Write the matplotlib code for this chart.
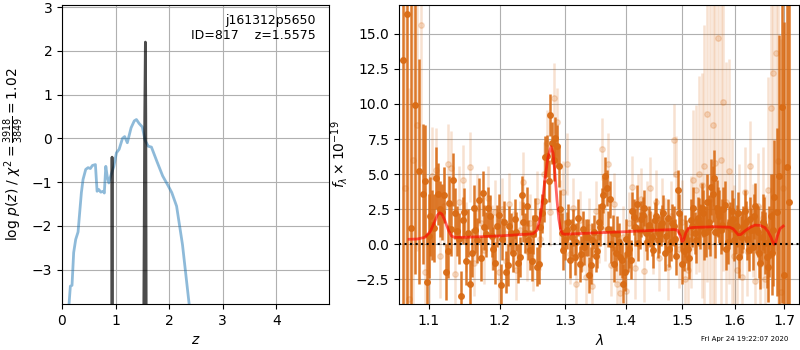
import matplotlib
matplotlib.use('Agg')
import matplotlib.pyplot as plt
import numpy as np

# coarse p(z)
z_coarse = [0.125, 0.156, 0.187, 0.218, 0.256, 0.30, 0.33, 0.362, 0.393, 0.443, 0.487, 0.53,
            0.568, 0.624, 0.655, 0.687, 0.724, 0.768, 0.79, 0.818, 0.843, 0.874, 0.91, 0.968,
            1.017, 1.067, 1.13, 1.17, 1.22, 1.29, 1.35, 1.39, 1.44, 1.50, 1.55, 1.61, 1.67,
            1.77, 1.88, 1.985, 2.05, 2.14, 2.25, 2.38]
logp_coarse = [-3.9, -3.38, -3.36, -2.61, -2.31, -2.14, -1.70, -1.24, -0.94, -0.71, -0.67, -0.69,
               -0.62, -0.60, -1.21, -1.17, -1.23, -1.21, -1.25, -0.64, -0.86, -1.02, -0.86, -0.64,
               -0.33, -0.25, 0.0, 0.04, -0.10, 0.24, 0.40, 0.43, 0.34, 0.26, -0.04, -0.18, -0.2,
               -0.52, -0.86, -1.09, -1.24, -1.55, -2.43, -3.85]

# fine p(z)
z_fine = [0.925, 0.931, 0.935, 0.939, 0.945, 1.51, 1.528, 1.545, 1.5575, 1.565, 1.572, 1.59]
logp_fine = [-8, -3.8, -0.43, -3.8, -8, -8, -3.8, 0.5, 2.2, 0.5, -3.8, -8]

# spectrum, first beam
wave_a = np.arange(1.066, 1.7112, 0.0052)
flux_a = [13.1, 16.4, 1.15, 9.9, 5.2, 3.6, -2.7, 2.0, 1.15, 3.6,
          2.3, -1.95, 2.95, 4.6, 0.95, -3.7, 2.3, 0.8, -0.6, 1.0,
          3.15, 3.65, 0.7, 2.0, -0.3, 1.3, -2.9, 1.6, -1.5, 0.8,
          1.8, -1.35, 3.5, 0.8, 0.3, -1.2, 1.9, -1.4, 2.2, 6.2,
          4.5, 7.2, 7.6, 5.6, 0.8, 0.3, 1.6, 0.5, -0.9, 1.9,
          -0.7, -0.2, 0.5, -1.5, 0.9, -0.5, 1.2, 3.5, 4.0, 3.2,
          0.8, -0.6, 0.2, -1.1, -1.95, -0.6, -1.1, 1.96, 2.9, 1.0,
          2.1, 0.8, 1.4, 0.5, 1.7, 0.3, 1.2, 2.2, 0.6, -0.3,
          1.5, 0.4, 3.9, 0.9, -0.5, 0.2, -1.0, 1.3, 0.8, 1.9,
          1.3, 2.2, 0.9, 1.6, 4.1, 4.7, 2.6, 2.0, 1.4, 2.8,
          0.2, 1.5, 1.8, 0.8, 2.2, 0.5, 1.2, 1.6, -0.4, 1.0,
          2.0, 1.1, -0.6, 0.5, 1.4, -0.9, 0.2, -0.6, 3.4, 2.3,
          4.9, 9.8, -2.2, 5.5, 3.0]
err_a = [25, 25, 20, 12, 8, 5, 3.5, 2.8, 2.4, 2.2,
         2.0, 2.0, 1.9, 1.9, 1.8, 1.8, 1.7, 1.7, 1.7, 1.6,
         1.6, 1.6, 1.6, 1.5, 1.5, 1.5, 1.5, 1.5, 1.5, 1.4,
         1.4, 1.4, 1.4, 1.4, 1.4, 1.4, 1.4, 1.4, 1.4, 1.5,
         1.5, 1.5, 1.5, 1.5, 1.4, 1.4, 1.3, 1.3, 1.3, 1.3,
         1.3, 1.3, 1.3, 1.3, 1.2, 1.2, 1.3, 1.3, 1.3, 1.3,
         1.3, 1.3, 1.3, 1.3, 1.4, 1.4, 1.4, 1.3, 1.3, 1.3,
         1.3, 1.3, 1.3, 1.3, 1.3, 1.3, 1.3, 1.3, 1.3, 1.3,
         1.4, 1.4, 1.4, 1.4, 1.4, 1.5, 1.5, 1.5, 1.5, 1.5,
         1.6, 1.7, 1.8, 1.9, 2.0, 2.0, 2.0, 1.9, 1.8, 1.7,
         1.6, 1.5, 1.5, 1.5, 1.5, 1.5, 1.5, 1.5, 1.5, 1.6,
         1.6, 1.7, 1.8, 1.9, 2.0, 2.2, 2.5, 3.0, 4, 6,
         10, 14, 18, 25, 30]

# spectrum, second beam (same colour)
wave_c = np.arange(1.0946, 1.679, 0.0052)
flux_c = [4.5, 0.6, 1.4, 4.7, 2.5, 3.5, -0.5, 1.1, 2.2, 0.4,
          1.7, -1.2, -2.8, 2.6, 0.3, -1.0, 1.2, 2.6, 0.6, -1.3,
          2.1, 0.4, -2.0, 1.3, -0.6, 0.9, -0.9, 1.6, 2.7, -0.4,
          0.7, -1.6, 1.2, 3.1, 6.3, 9.2, 6.0, 7.0, 2.5, -0.4,
          1.0, -1.1, 1.2, 0.2, -1.4, 1.1, 0.5, -2.2, 0.3, -0.8,
          1.6, 2.7, 4.9, 1.1, 0.0, -1.4, 0.7, -0.9, -2.8, 0.4,
          -0.3, 2.4, 1.2, 0.1, 1.8, 2.6, 0.2, 1.1, -0.4, 2.0,
          0.7, 1.5, -0.6, 1.9, 0.2, 1.3, -0.8, 2.2, -1.4, 0.6,
          -0.3, 1.7, 2.6, 0.3, 1.6, 2.6, 0.8, 3.0, 1.2, 3.6,
          0.9, 2.3, 1.0, 2.5, -0.3, 1.2, 2.4, 0.3, 1.3, -0.9,
          0.9, 2.4, 0.4, 1.8, -0.2, 2.7, 0.9, -1.3, 1.6, 0.1,
          -1.6, 2.0, 1.0]
err_c = [4, 3, 2.5, 2.2, 2.0, 2.0, 1.9, 1.9, 1.8, 1.8,
         1.7, 1.7, 1.7, 1.6, 1.6, 1.6, 1.6, 1.5, 1.5, 1.5,
         1.5, 1.5, 1.5, 1.4, 1.4, 1.4, 1.4, 1.4, 1.4, 1.4,
         1.4, 1.4, 1.4, 1.5, 1.5, 1.5, 1.5, 1.5, 1.4, 1.4,
         1.3, 1.3, 1.3, 1.3, 1.3, 1.3, 1.3, 1.3, 1.2, 1.2,
         1.3, 1.3, 1.3, 1.3, 1.3, 1.3, 1.3, 1.3, 1.4, 1.4,
         1.4, 1.3, 1.3, 1.3, 1.3, 1.3, 1.3, 1.3, 1.3, 1.3,
         1.3, 1.3, 1.3, 1.3, 1.4, 1.4, 1.4, 1.4, 1.4, 1.5,
         1.5, 1.5, 1.5, 1.6, 1.7, 1.8, 1.9, 2.0, 2.0, 2.0,
         1.9, 1.8, 1.7, 1.6, 1.5, 1.5, 1.5, 1.5, 1.5, 1.5,
         1.5, 1.5, 1.5, 1.6, 1.6, 1.7, 1.8, 1.9, 2.0, 2.2,
         2.5, 3.0, 4.0]

# spectrum, faint beam
wave_b = np.arange(1.0686, 1.700, 0.0052)
flux_b = [4.0, -3.9, 6.0, 8.5, 15.6, -2.0, 0.3, 4.85, 5.3, -0.8,
          2.7, 5.75, 5.4, -2.1, 3.0, 4.6, 0.5, 5.5, -1.3, 2.6,
          1.5, -0.4, 3.3, 0.5, 2.3, -2.0, 2.5, -1.2, 2.9, 0.2,
          -1.8, 1.0, 4.45, -0.5, 1.5, -1.2, 3.1, 0.4, 5.0, 7.2,
          2.3, 10.4, 8.7, 2.3, 3.7, 5.7, -0.7, 2.6, -2.8, 1.7,
          0.2, -2.3, 1.2, -3.0, 2.4, 0.8, 6.8, 1.0, 5.7, -1.5,
          2.9, -2.8, -3.5, 0.5, -3.3, 1.5, 4.1, -1.7, 2.8, 3.2,
          -1.9, 2.3, 4.0, 0.1, 3.0, -1.0, 2.4, 0.9, -1.6, 2.0,
          7.4, 5.0, -0.3, 1.6, -2.5, -1.8, 0.9, 4.6, 3.9, 5.0,
          4.2, 5.6, 9.3, 3.2, 8.5, 5.8, 14.7, 6.0, 10.1, 3.0,
          5.2, 1.5, -0.8, -1.8, 2.2, -2.3, 3.7, -0.5, 5.6, 1.0,
          -2.6, 2.7, -1.4, 1.9, -2.5, 3.9, 9.7, 12.2, 13.6, 5.9,
          -3.4, 4.0]
err_b = [20, 15, 12, 9, 10, 6, 4.5, 3.5, 3.0, 3.0,
         2.8, 2.8, 2.7, 2.6, 2.6, 2.5, 2.5, 2.5, 2.4, 2.4,
         2.4, 2.4, 2.3, 2.3, 2.3, 2.3, 2.2, 2.2, 2.2, 2.2,
         2.2, 2.1, 2.1, 2.1, 2.1, 2.1, 2.1, 2.2, 2.3, 2.4,
         2.4, 2.5, 2.4, 2.3, 2.2, 2.2, 2.1, 2.1, 2.1, 2.1,
         2.1, 2.1, 2.1, 2.1, 2.1, 2.1, 2.2, 2.2, 2.2, 2.2,
         2.2, 2.2, 2.2, 2.2, 2.2, 2.2, 2.2, 2.2, 2.2, 2.2,
         2.2, 2.2, 2.2, 2.2, 2.3, 2.3, 2.3, 2.4, 2.4, 2.5,
         2.6, 2.7, 2.8, 3.0, 3.2, 3.5, 4.0, 5, 6, 7,
         8, 10, 12, 14, 14, 14, 14, 12, 12, 10,
         8, 6, 5, 4, 3.5, 3.3, 3.2, 3.2, 3.2, 3.3,
         3.5, 3.8, 4.2, 5, 6, 8, 10, 12, 14, 16,
         18, 20]

# best-fit model
model_wave = [1.074, 1.085, 1.095, 1.102, 1.108, 1.112, 1.115, 1.118, 1.122, 1.127,
              1.131, 1.135, 1.15, 1.2, 1.25, 1.256, 1.261, 1.265, 1.269, 1.273,
              1.2776, 1.281, 1.284, 1.287, 1.290, 1.293, 1.296, 1.30, 1.35, 1.40,
              1.45, 1.485, 1.492, 1.497, 1.500, 1.503, 1.507, 1.512, 1.52, 1.56,
              1.59, 1.597, 1.603, 1.607, 1.612, 1.62, 1.63, 1.64, 1.65, 1.66,
              1.667, 1.672, 1.676, 1.679, 1.682, 1.686, 1.691, 1.698]
model_flux = [0.36, 0.38, 0.5, 0.9, 1.6, 2.1, 2.25, 2.15, 1.7, 1.0,
              0.6, 0.5, 0.5, 0.6, 0.75, 1.0, 1.9, 3.3, 4.9, 6.2,
              6.95, 6.5, 5.0, 3.2, 1.8, 1.0, 0.75, 0.72, 0.82, 0.9,
              1.0, 1.05, 1.0, 0.6, 0.2, 0.3, 0.8, 1.15, 1.2, 1.25,
              1.22, 1.1, 0.85, 0.68, 0.7, 0.95, 1.2, 1.37, 1.35, 1.2,
              0.9, 0.55, 0.2, 0.0, 0.1, 0.6, 1.1, 1.3]

fig = plt.figure(figsize=(8, 3.5), dpi=100)
ax = fig.add_axes([0.0775, 0.131, 0.334, 0.855])
ax.plot(z_coarse, logp_coarse, color='C0', alpha=0.5, lw=2)
ax.plot(z_fine, logp_fine, color='k', alpha=0.7, lw=2)
ax.set_xlim(0, 4.99)
ax.set_ylim(-3.79, 3.05)
ax.set_xlabel('$z$')
ax.set_ylabel(r'log $p(z)$' + ' / ' + r'$\chi^2=\frac{3918}{3849}=1.02$')
ax.text(0.95, 0.97, 'j161312p5650\nID=817    z=1.5575', ha='right', va='top',
        transform=ax.transAxes, fontsize=9)
ax.grid()

ax2 = fig.add_axes([0.499, 0.131, 0.5, 0.855])
dark = (0.85, 0.42, 0.08)
ax2.errorbar(wave_b, flux_b, err_b, color=dark, alpha=0.2, marker='o', ms=4,
             linestyle='None', elinewidth=1.8)
ax2.errorbar(wave_a, flux_a, err_a, color=dark, alpha=0.9, marker='o', ms=4,
             linestyle='None', elinewidth=1.8)
ax2.errorbar(wave_c, flux_c, err_c, color=dark, alpha=0.9, marker='o', ms=4,
             linestyle='None', elinewidth=1.8)
ax2.plot(model_wave, model_flux, color='r', alpha=0.6, lw=2, zorder=10)
ax2.axhline(0, color='k', linestyle=':', lw=1.5, zorder=11)
ax2.set_xscale('log')
ax2.set_xlim(1.061, 1.7315)
ax2.set_ylim(-4.26, 17.05)
xt = [1.1, 1.2, 1.3, 1.4, 1.5, 1.6, 1.7]
ax2.set_xticks(xt)
ax2.set_xticklabels(['%.1f' % x for x in xt])
ax2.xaxis.set_minor_locator(matplotlib.ticker.NullLocator())
ax2.set_xlabel(r'$\lambda$')
ax2.set_ylabel(r'$f_\lambda\times10^{-19}$')
ax2.grid()

fig.text(0.985, 0.022, 'Fri Apr 24 19:22:07 2020', ha='right', va='bottom', fontsize=5)

fig.savefig('out.png', dpi=100)
